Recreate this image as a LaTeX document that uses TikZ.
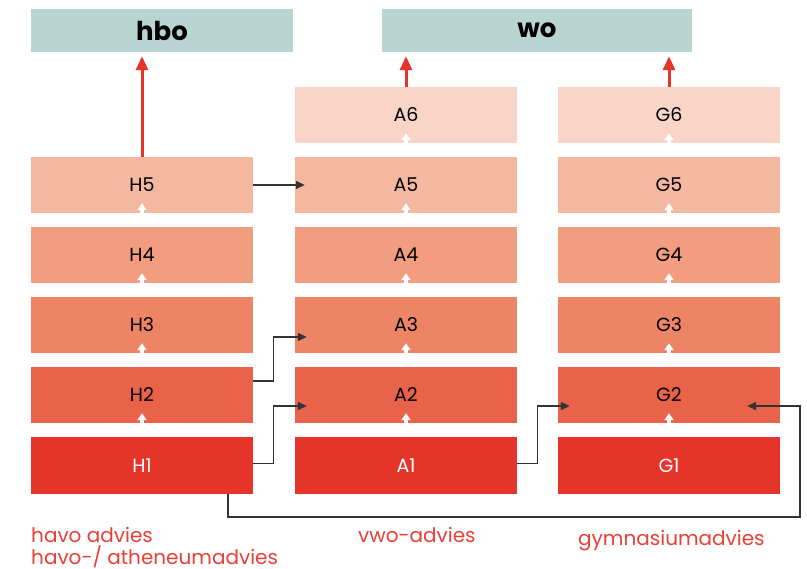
\documentclass[tikz,border=0pt]{standalone}
\usepackage{fontspec}
\setmainfont{Poppins}
\usetikzlibrary{arrows.meta}

\definecolor{niv1}{HTML}{E5352B}
\definecolor{niv2}{HTML}{E9634A}
\definecolor{niv3}{HTML}{ED8466}
\definecolor{niv4}{HTML}{F29C80}
\definecolor{niv5}{HTML}{F4B8A0}
\definecolor{niv6}{HTML}{F8D5C6}
\definecolor{vervolg}{HTML}{B9D5D1}
\definecolor{advies}{HTML}{E83F36}
\definecolor{lijn}{HTML}{333333}

\begin{document}
\begin{tikzpicture}[x=1pt, y=-1pt,
		jaar/.style={minimum width=222pt, minimum height=56pt, inner sep=0pt, font=\fontsize{19}{22}\selectfont},
		doel/.style={minimum height=43pt, inner sep=0pt, fill=vervolg, font=\fontsize{26}{30}\selectfont\bfseries},
		adv/.style={anchor=base west, inner sep=0pt, text=advies, font=\fontsize{20}{23}\selectfont},
		omhoog/.style={-{Triangle[length=14pt, width=12pt]}, line width=3pt, draw=niv1},
		stap/.style={-{Triangle[length=7pt, width=9pt]}, line width=4.5pt, draw=white},
		link/.style={-{Triangle[length=9pt, width=8pt]}, line width=1.3pt, draw=lijn}]
	\useasboundingbox (0,0) rectangle (807,569);

	\node (hbo) [doel, minimum width=262pt] at (162,30.5) {hbo};
	\node (wo) [doel, minimum width=310pt] at (537,30.5) {wo};

	\node (h5) [jaar, fill=niv5] at (142,185) {H5};
	\node (h4) [jaar, fill=niv4] at (142,255) {H4};
	\node (h3) [jaar, fill=niv3] at (142,325) {H3};
	\node (h2) [jaar, fill=niv2] at (142,395) {H2};
	\node (h1) [jaar, fill=niv1, text=white, minimum height=57pt] at (142,465.5) {H1};

	\node (a6) [jaar, fill=niv6] at (406,115) {A6};
	\node (a5) [jaar, fill=niv5] at (406,185) {A5};
	\node (a4) [jaar, fill=niv4] at (406,255) {A4};
	\node (a3) [jaar, fill=niv3] at (406,325) {A3};
	\node (a2) [jaar, fill=niv2] at (406,395) {A2};
	\node (a1) [jaar, fill=niv1, text=white, minimum height=57pt] at (406,465.5) {A1};

	\node (g6) [jaar, fill=niv6] at (669,115) {G6};
	\node (g5) [jaar, fill=niv5] at (669,185) {G5};
	\node (g4) [jaar, fill=niv4] at (669,255) {G4};
	\node (g3) [jaar, fill=niv3] at (669,325) {G3};
	\node (g2) [jaar, fill=niv2] at (669,395) {G2};
	\node (g1) [jaar, fill=niv1, text=white, minimum height=57pt] at (669,465.5) {G1};

	\draw [stap] (h1.north) -- ([yshift=10pt]h2.south);
	\draw [stap] (h2.north) -- ([yshift=10pt]h3.south);
	\draw [stap] (h3.north) -- ([yshift=10pt]h4.south);
	\draw [stap] (h4.north) -- ([yshift=10pt]h5.south);
	\draw [stap] (a1.north) -- ([yshift=10pt]a2.south);
	\draw [stap] (a2.north) -- ([yshift=10pt]a3.south);
	\draw [stap] (a3.north) -- ([yshift=10pt]a4.south);
	\draw [stap] (a4.north) -- ([yshift=10pt]a5.south);
	\draw [stap] (a5.north) -- ([yshift=10pt]a6.south);
	\draw [stap] (g1.north) -- ([yshift=10pt]g2.south);
	\draw [stap] (g2.north) -- ([yshift=10pt]g3.south);
	\draw [stap] (g3.north) -- ([yshift=10pt]g4.south);
	\draw [stap] (g4.north) -- ([yshift=10pt]g5.south);
	\draw [stap] (g5.north) -- ([yshift=10pt]g6.south);

	\draw [omhoog] (h5.north) -- ([yshift=-4pt]hbo.south -| h5.north);
	\draw [omhoog] (a6.north) -- ([yshift=-4pt]wo.south -| a6.north);
	\draw [omhoog] (g6.north) -- ([yshift=-4pt]wo.south -| g6.north);

	\coordinate (terug) at (800,517);
	\draw [link] (h5.east) -- ([xshift=10pt]a5.west);
	\draw [link] ([yshift=14pt]h2.east) -- ++(20,0) |- ([xshift=12pt, yshift=-12pt]a3.west);
	\draw [link] ([yshift=2pt]h1.east) -- ++(20,0) |- ([xshift=12pt, yshift=-11pt]a2.west);
	\draw [link] ([yshift=2pt]a1.east) -- ++(20,0) |- ([xshift=12pt, yshift=-11pt]g2.west);
	\draw [link] ([xshift=86pt]h1.south) |- (terug) |- ([xshift=-33pt, yshift=-11pt]g2.east);

	\node (havo) [adv] at (31,543) {havo advies};
	\node (havoath) [adv] at (31,565) {havo-/ atheneumadvies};
	\node (vwo) [adv] at (358,543) {vwo-advies};
	\node (gymn) [adv] at (578,546) {gymnasiumadvies};
\end{tikzpicture}
\end{document}
